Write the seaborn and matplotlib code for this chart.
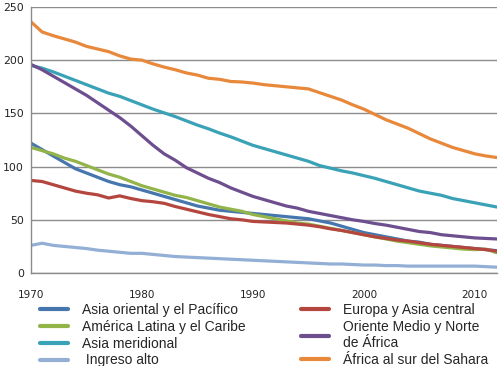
import numpy as np
import pandas as pd
import matplotlib
matplotlib.use("Agg")
import matplotlib.pyplot as plt
import seaborn as sns

years = list(range(1970, 2013))

asia_oriental = [122, 116, 110, 104, 98, 94, 90, 86, 83, 81, 78, 75, 72, 69, 66, 63, 61, 59, 58, 57,
                 56, 55, 54, 53, 52, 51, 49, 47, 44, 41, 38, 36, 34, 32, 30, 29, 27, 26, 25, 24, 23, 22, 21]
america_latina = [118, 115, 112, 108, 105, 101, 97, 93, 90, 86, 82, 79, 76, 73, 71, 68, 65, 62, 60, 58,
                  55, 53, 51, 49, 47, 46, 44, 42, 40, 38, 36, 34, 32, 30, 28.5, 27, 25.5, 24.5, 23.5, 22.5, 22, 22.5, 19]
asia_meridional = [195, 192.5, 189, 185, 181, 177, 173, 169, 166, 162, 158, 154, 150.5, 147, 143, 139, 135.5, 131.5, 128, 124,
                   120, 117, 114, 111, 108, 105, 101, 98.5, 96, 94, 91.5, 89, 86, 83, 80, 77, 75, 73, 70, 68, 66, 64, 62]
ingreso_alto = [26, 28, 26, 25, 24, 23, 21.5, 20.5, 19.5, 18.5, 18.5, 17.5, 16.5, 15.5, 15, 14.5, 14, 13.5, 13, 12.5,
                12, 11.5, 11, 10.5, 10, 9.5, 9, 8.5, 8.5, 8, 7.5, 7.5, 7, 7, 6.5, 6.5, 6.5, 6.5, 6.5, 6.5, 6.5, 6, 5.5]
europa_asia_central = [87, 86, 83, 80, 77, 75, 73.5, 70.5, 72.5, 70, 68, 67, 65.5, 62.5, 60, 57.5, 55, 53, 51, 50,
                       48.5, 48, 47.5, 47, 46, 45, 43.5, 41.5, 40, 38, 36, 34, 32.5, 31, 30, 28.5, 27, 26, 25, 24, 23, 22, 20.5]
oriente_medio = [196, 191, 185, 179, 173, 167, 160, 153, 146, 138, 129, 120, 112, 106, 99, 94, 89, 85, 80, 76,
                 72, 69, 66, 63, 61, 58, 56, 54, 52, 50, 48.5, 46.5, 45, 43, 41, 39, 38, 36, 35, 34, 33, 32.5, 32]
africa_sur_sahara = [236, 226.5, 223, 220, 217, 213, 210.5, 208, 204, 201, 200, 196.5, 193.5, 191, 188, 186, 183, 182, 180, 179.5,
                     178.5, 177, 176, 175, 174, 173, 169.5, 166, 162.5, 158, 154, 149, 144, 140, 136, 131, 126, 122, 118, 115, 112, 110, 108.5]

labels = ["Asia oriental y el Pacífico", "América Latina y el Caribe", "Asia meridional", " Ingreso alto",
          "Europa y Asia central", "Oriente Medio y Norte\nde África", "África al sur del Sahara"]
series = [asia_oriental, america_latina, asia_meridional, ingreso_alto,
          europa_asia_central, oriente_medio, africa_sur_sahara]
colors = ["#4676ae", "#92b449", "#3aa2b7", "#94afd5", "#b4463f", "#6d4f8f", "#e8883a"]

df = pd.concat([pd.DataFrame({"year": years, "value": s, "region": lab}) for lab, s in zip(labels, series)],
               ignore_index=True)

sns.set_style("white")
plt.rcParams['font.family'] = ['DejaVu Sans']

fig = plt.figure(figsize=(5.0, 3.66), dpi=100)
ax = fig.add_axes([0.062, 0.254, 0.932, 0.727])

sns.lineplot(data=df, x="year", y="value", hue="region", hue_order=labels,
             palette=dict(zip(labels, colors)), linewidth=2.3, ax=ax, legend=False)

ax.set_xlim(1970, 2012)
ax.set_ylim(0, 250)
ax.set_xticks([1970, 1980, 1990, 2000, 2010])
ax.set_yticks([0, 50, 100, 150, 200, 250])
ax.set_xlabel("")
ax.set_ylabel("")
ax.yaxis.grid(True, color="#8c8c8c", linewidth=1.0)
ax.set_axisbelow(True)
for side in ["top", "right"]:
    ax.spines[side].set_visible(False)
for side in ["left", "bottom"]:
    ax.spines[side].set_color("#8c8c8c")
    ax.spines[side].set_linewidth(1.0)
ax.tick_params(axis="x", length=3, width=1, color="#8c8c8c", pad=9, labelsize=7.5, labelcolor="#222222")
ax.tick_params(axis="y", length=0, pad=5, labelsize=7.8, labelcolor="#222222")

handles = [plt.Line2D([], [], color=c, linewidth=3) for c in colors]
fig.legend(handles, labels, ncol=2, loc="upper left", bbox_to_anchor=(0.08, 0.172),
           frameon=False, prop={"family": "Liberation Sans", "size": 10},
           handlelength=2.0, handletextpad=1.05, columnspacing=3.95, labelspacing=0.2,
           borderaxespad=0, borderpad=0)

fig.savefig("out.png", dpi=100)
